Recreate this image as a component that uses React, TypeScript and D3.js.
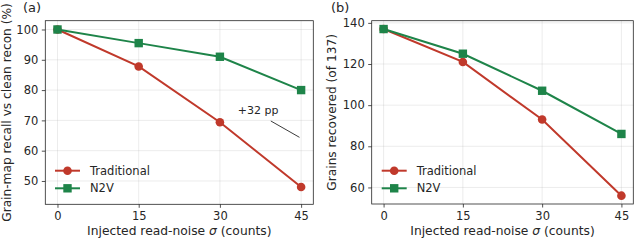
import { useRef, useEffect } from "react";
import * as d3 from "d3";

// injected noise levels (counts)
const sigmas = [0, 15, 30, 45];

// panel (a): grain-map recall vs clean recon (%)
const recallTraditional = [100, 87.8, 69.4, 48];
const recallN2V = [100, 95.5, 91, 80];

// panel (b): grains recovered (of 137)
const grainsTraditional = [137, 121, 93, 56];
const grainsN2V = [137, 125, 107, 86];

const recallTicks = [50, 60, 70, 80, 90, 100];
const grainTicks = [60, 80, 100, 120, 140];

const RED = "#c0392b";
const GREEN = "#1e8449";
const FONT = "DejaVu Sans, sans-serif";

export default function App() {
  const ref = useRef<SVGSVGElement>(null);

  function init() {
    const svg = d3.select(ref.current);
    svg.selectAll("*").remove();
    svg.attr("font-family", FONT);

    const drawPanel = (opts) => {
      const { left, right, top, bottom, yDomain, yTicks, trad, n2v, tag, ylabel, ylabelX, tagX, legendX } = opts;
      const x = d3.scaleLinear().domain([-2.25, 47.25]).range([left, right]);
      const y = d3.scaleLinear().domain(yDomain).range([bottom, top]);
      const g = svg.append("g");

      // grid
      g.append("g")
        .selectAll("line.gx")
        .data(sigmas)
        .join("line")
        .attr("x1", (d) => x(d))
        .attr("x2", (d) => x(d))
        .attr("y1", top)
        .attr("y2", bottom)
        .attr("stroke", "#b0b0b0")
        .attr("stroke-opacity", 0.3)
        .attr("stroke-width", 0.8);
      g.append("g")
        .selectAll("line.gy")
        .data(yTicks)
        .join("line")
        .attr("x1", left)
        .attr("x2", right)
        .attr("y1", (d) => y(d))
        .attr("y2", (d) => y(d))
        .attr("stroke", "#b0b0b0")
        .attr("stroke-opacity", 0.3)
        .attr("stroke-width", 0.8);

      // axes
      const xAxis = g
        .append("g")
        .attr("transform", `translate(0,${bottom})`)
        .call(d3.axisBottom(x).tickValues(sigmas).tickSize(3.5).tickPadding(4.5));
      const yAxis = g
        .append("g")
        .attr("transform", `translate(${left},0)`)
        .call(d3.axisLeft(y).tickValues(yTicks).tickSize(3.5).tickPadding(3.5));
      [xAxis, yAxis].forEach((a) => {
        a.select(".domain").remove();
        a.selectAll("text").attr("font-size", 11.5).attr("font-family", FONT).attr("fill", "#262626");
        a.selectAll("line").attr("stroke", "#262626").attr("stroke-width", 0.8);
      });

      // frame
      g.append("rect")
        .attr("x", left)
        .attr("y", top)
        .attr("width", right - left)
        .attr("height", bottom - top)
        .attr("fill", "none")
        .attr("stroke", "#262626")
        .attr("stroke-width", 0.8);

      const line = d3
        .line<number>()
        .x((_, i) => x(sigmas[i]))
        .y((d) => y(d));

      // series
      g.append("path").attr("d", line(trad)).attr("fill", "none").attr("stroke", RED).attr("stroke-width", 2);
      g.append("g")
        .selectAll("circle")
        .data(trad)
        .join("circle")
        .attr("cx", (_, i) => x(sigmas[i]))
        .attr("cy", (d) => y(d))
        .attr("r", 4.3)
        .attr("fill", RED);
      g.append("path").attr("d", line(n2v)).attr("fill", "none").attr("stroke", GREEN).attr("stroke-width", 2);
      g.append("g")
        .selectAll("rect.m")
        .data(n2v)
        .join("rect")
        .attr("x", (_, i) => x(sigmas[i]) - 4.2)
        .attr("y", (d) => y(d) - 4.2)
        .attr("width", 8.4)
        .attr("height", 8.4)
        .attr("fill", GREEN);

      // legend
      const legend = [
        { name: "Traditional", color: RED, shape: "circle" },
        { name: "N2V", color: GREEN, shape: "square" },
      ];
      legend.forEach((l, i) => {
        const ly = 170.7 + i * 17.6;
        const lg = g.append("g");
        lg.append("line")
          .attr("x1", legendX)
          .attr("x2", legendX + 25)
          .attr("y1", ly)
          .attr("y2", ly)
          .attr("stroke", l.color)
          .attr("stroke-width", 2);
        if (l.shape === "circle") {
          lg.append("circle").attr("cx", legendX + 12.5).attr("cy", ly).attr("r", 4.3).attr("fill", l.color);
        } else {
          lg.append("rect")
            .attr("x", legendX + 12.5 - 4.2)
            .attr("y", ly - 4.2)
            .attr("width", 8.4)
            .attr("height", 8.4)
            .attr("fill", l.color);
        }
        lg.append("text")
          .attr("x", legendX + 35)
          .attr("y", ly)
          .attr("dy", "0.35em")
          .attr("font-size", 11.5)
          .attr("fill", "#262626")
          .text(l.name);
      });

      // labels
      const xl = g
        .append("text")
        .attr("x", (left + right) / 2)
        .attr("y", 235)
        .attr("text-anchor", "middle")
        .attr("font-size", 12.3)
        .attr("fill", "#262626");
      xl.append("tspan").text("Injected read-noise ");
      xl.append("tspan").attr("font-style", "italic").text("σ");
      xl.append("tspan").text(" (counts)");

      g.append("text")
        .attr("transform", `translate(${ylabelX},${(top + bottom) / 2}) rotate(-90)`)
        .attr("text-anchor", "middle")
        .attr("font-size", 12.2)
        .attr("fill", "#262626")
        .text(ylabel);

      g.append("text")
        .attr("x", tagX)
        .attr("y", 12)
        .attr("font-size", 13)
        .attr("fill", "#262626")
        .text(tag);

      return { x, y, g };
    };

    const a = drawPanel({
      left: 45.3,
      right: 313.3,
      top: 20.7,
      bottom: 204.3,
      yDomain: [42.3, 102.9],
      yTicks: recallTicks,
      trad: recallTraditional,
      n2v: recallN2V,
      tag: "(a)",
      ylabel: "Grain-map recall vs clean recon (%)",
      ylabelX: 11,
      tagX: 23,
      legendX: 55,
    });

    // gap annotation at sigma = 45
    const gap = recallN2V[3] - recallTraditional[3];
    a.g.append("text")
      .attr("x", a.x(33.3))
      .attr("y", a.y(73.4))
      .attr("dy", "0.35em")
      .attr("font-size", 11)
      .attr("fill", "#262626")
      .text(`+${gap} pp`);
    a.g.append("line")
      .attr("x1", a.x(39.4))
      .attr("y1", a.y(69.8))
      .attr("x2", a.x(44.7))
      .attr("y2", a.y(64.4))
      .attr("stroke", "#262626")
      .attr("stroke-width", 0.9);

    drawPanel({
      left: 371.7,
      right: 633.3,
      top: 20.7,
      bottom: 204,
      yDomain: [51.95, 141.05],
      yTicks: grainTicks,
      trad: grainsTraditional,
      n2v: grainsN2V,
      tag: "(b)",
      ylabel: "Grains recovered (of 137)",
      ylabelX: 336,
      tagX: 331,
      legendX: 381.7,
    });
  }

  useEffect(init, []);
  return (
    <svg
      ref={ref}
      width={640}
      height={240}
      style={{ position: "absolute", left: 0, top: 0, background: "#fff" }}
    />
  );
}
